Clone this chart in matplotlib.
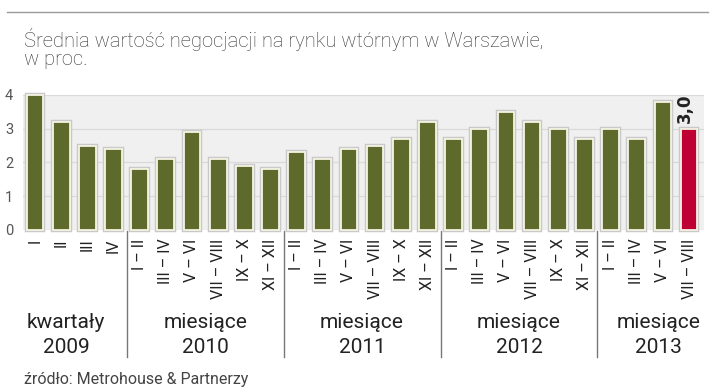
import numpy as np
import matplotlib
matplotlib.use("Agg")
import matplotlib.pyplot as plt
from matplotlib import font_manager as fm
from matplotlib.transforms import blended_transform_factory

# data
labels = ["I", "II", "III", "IV",
          "I – II", "III – IV", "V – VI", "VII – VIII", "IX – X", "XI – XII",
          "I – II", "III – IV", "V – VI", "VII – VIII", "IX – X", "XI – XII",
          "I – II", "III – IV", "V – VI", "VII – VIII", "IX – X", "XI – XII",
          "I – II", "III – IV", "V – VI", "VII – VIII"]
values = [4.0, 3.2, 2.5, 2.4,
          1.8, 2.1, 2.9, 2.1, 1.9, 1.8,
          2.3, 2.1, 2.4, 2.5, 2.7, 3.2,
          2.7, 3.0, 3.5, 3.2, 3.0, 2.7,
          3.0, 2.7, 3.8, 3.0]
group_names = ["kwartały\n2009", "miesiące\n2010", "miesiące\n2011",
               "miesiące\n2012", "miesiące\n2013"]
group_sizes = [4, 6, 6, 6, 4]

plt.rcParams["font.family"] = ["Roboto", "DejaVu Sans"]

olive = "#5e6a2b"
red = "#be0034"

fig = plt.figure(figsize=(7.16, 3.92), dpi=100)
ax = fig.add_axes([0.0321, 0.4133, 0.9511, 0.3444])
ax.set_facecolor("#f0f0f0")

x = np.arange(len(values))
colors = [olive] * (len(values) - 1) + [red]
ax.bar(x, values, width=0.64, color="none", edgecolor="#c9c9c9", linewidth=3.2,
       zorder=2, clip_on=False)
ax.bar(x, values, width=0.64, color=colors, edgecolor="#f6f4e2", linewidth=1.3,
       zorder=3, clip_on=False)

ax.set_xlim(-0.46, 25.57)
ax.set_ylim(0, 4)
ax.set_yticks([0, 1, 2, 3, 4])
ax.grid(axis="y", color="#d9d9d9", linewidth=0.9, zorder=1)
ax.tick_params(axis="y", length=0, pad=7, labelsize=10.5, labelcolor="#555555")
ax.set_xticks(x)
ax.set_xticklabels(labels, rotation=90, va="top", ha="center",
                   fontsize=11.5, color="#222222")
ax.tick_params(axis="x", length=0, pad=6)
for s in ax.spines.values():
    s.set_visible(False)

# value on the last bar
ax.text(x[-1] - 0.15, values[-1] + 0.17, "3,0", rotation=90, ha="center",
        va="bottom", fontsize=12, fontweight="bold", color="#222222",
        family="DejaVu Sans")

# group separators and labels
trans = blended_transform_factory(ax.transData, ax.transAxes)
bounds = np.cumsum([0] + group_sizes) - 0.5
for b in bounds[1:-1]:
    ax.plot([b, b], [-0.01, -0.94], color="#777777", linewidth=1,
            transform=trans, clip_on=False)
centers = (bounds[:-1] + bounds[1:]) / 2
centers[0] -= 0.32
centers[-1] += 0.32
for c, g in zip(centers, group_names):
    ax.text(c, -0.78, g, transform=trans, ha="center", va="center",
            fontsize=15, color="#222222", linespacing=1.4)

# title, rule and source
fig.add_artist(plt.Line2D([7 / 716, 708 / 716], [1 - 12 / 392] * 2,
                          color="#9a9a9a", linewidth=1))
fig.text(24 / 716, 1 - 65 / 392,
         "Średnia wartość negocjacji na rynku wtórnym w Warszawie,\nw proc.",
         ha="left", va="baseline", fontsize=14.5, color="#333333",
         fontweight="light", linespacing=0.95)
fig.text(24 / 716, 1 - 384 / 392, "źródło: Metrohouse & Partnerzy",
         ha="left", va="baseline", fontsize=11.5, color="#444444")

fig.savefig("out.png", dpi=100)
